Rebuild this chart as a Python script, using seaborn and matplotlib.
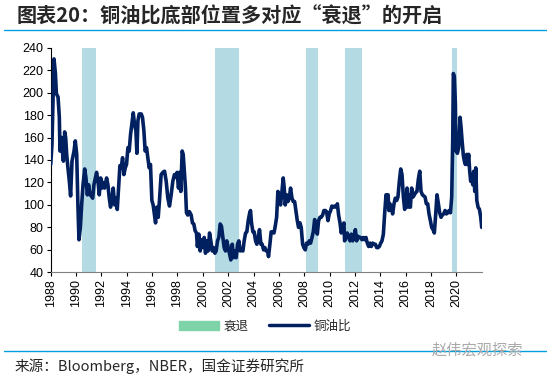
import matplotlib.pyplot as plt
import numpy as np
import pandas as pd
import seaborn as sns
from matplotlib.lines import Line2D
from matplotlib.patches import Patch

# 铜油比 readings (decimal year on the chart's axis, ratio)
years = [
    1988.00, 1988.10, 1988.26, 1988.37, 1988.45, 1988.58, 1988.68, 1988.73, 1988.84, 1988.92,
    1989.00, 1989.10, 1989.18, 1989.26, 1989.36, 1989.47, 1989.57, 1989.68, 1989.84, 1989.94,
    1990.05, 1990.15, 1990.23, 1990.34, 1990.44, 1990.55, 1990.68, 1990.78, 1990.89, 1990.99,
    1991.10, 1991.20, 1991.31, 1991.41, 1991.52, 1991.62, 1991.73, 1991.83, 1991.94, 1992.04,
    1992.15, 1992.25, 1992.41, 1992.51, 1992.62, 1992.72, 1992.83, 1992.93, 1993.04, 1993.14,
    1993.25, 1993.35, 1993.46, 1993.56, 1993.67, 1993.77, 1993.88, 1993.98, 1994.09, 1994.19,
    1994.30, 1994.40, 1994.51, 1994.61, 1994.72, 1994.80, 1994.88, 1994.98, 1995.14, 1995.24,
    1995.35, 1995.45, 1995.56, 1995.66, 1995.77, 1995.87, 1995.98, 1996.08, 1996.19, 1996.27,
    1996.37, 1996.48, 1996.58, 1996.71, 1996.85, 1996.98, 1997.11, 1997.24, 1997.37, 1997.50,
    1997.63, 1997.76, 1997.89, 1997.97, 1998.08, 1998.16, 1998.26, 1998.37, 1998.45, 1998.55,
    1998.63, 1998.71, 1998.81, 1998.94, 1999.08, 1999.18, 1999.29, 1999.39, 1999.50, 1999.57,
    1999.68, 1999.79, 1999.89, 2000.00, 2000.11, 2000.21, 2000.32, 2000.42, 2000.53, 2000.63,
    2000.74, 2000.84, 2000.95, 2001.05, 2001.16, 2001.26, 2001.37, 2001.47, 2001.58, 2001.68,
    2001.79, 2001.89, 2002.00, 2002.11, 2002.21, 2002.32, 2002.42, 2002.53, 2002.63, 2002.74,
    2002.84, 2002.95, 2003.05, 2003.16, 2003.26, 2003.37, 2003.47, 2003.58, 2003.68, 2003.76,
    2003.84, 2003.95, 2004.05, 2004.16, 2004.26, 2004.37, 2004.47, 2004.58, 2004.68, 2004.79,
    2004.89, 2005.00, 2005.11, 2005.18, 2005.29, 2005.39, 2005.50, 2005.61, 2005.71, 2005.82,
    2005.92, 2006.03, 2006.13, 2006.24, 2006.34, 2006.42, 2006.50, 2006.61, 2006.71, 2006.82,
    2006.92, 2007.03, 2007.13, 2007.24, 2007.34, 2007.45, 2007.55, 2007.66, 2007.76, 2007.87,
    2007.97, 2008.08, 2008.18, 2008.29, 2008.39, 2008.50, 2008.61, 2008.71, 2008.82, 2008.92,
    2009.03, 2009.13, 2009.24, 2009.34, 2009.45, 2009.55, 2009.66, 2009.76, 2009.87, 2009.97,
    2010.08, 2010.18, 2010.29, 2010.39, 2010.50, 2010.61, 2010.71, 2010.82, 2010.92, 2011.03,
    2011.13, 2011.18, 2011.29, 2011.39, 2011.50, 2011.61, 2011.71, 2011.82, 2011.92, 2012.03,
    2012.13, 2012.24, 2012.34, 2012.45, 2012.55, 2012.66, 2012.76, 2012.87, 2012.97, 2013.08,
    2013.18, 2013.29, 2013.39, 2013.50, 2013.61, 2013.71, 2013.82, 2013.92, 2014.03, 2014.13,
    2014.24, 2014.34, 2014.45, 2014.53, 2014.61, 2014.68, 2014.76, 2014.87, 2014.97, 2015.08,
    2015.18, 2015.29, 2015.39, 2015.50, 2015.61, 2015.71, 2015.82, 2015.92, 2016.03, 2016.11,
    2016.18, 2016.26, 2016.37, 2016.47, 2016.58, 2016.68, 2016.79, 2016.89, 2017.00, 2017.11,
    2017.21, 2017.32, 2017.42, 2017.53, 2017.63, 2017.74, 2017.84, 2017.95, 2018.05, 2018.16,
    2018.26, 2018.37, 2018.47, 2018.58, 2018.68, 2018.79, 2018.89, 2019.00, 2019.11, 2019.21,
    2019.32, 2019.42, 2019.53, 2019.63, 2019.71, 2019.76, 2019.84, 2019.92, 2019.97, 2020.08,
    2020.18, 2020.29, 2020.37, 2020.45, 2020.55, 2020.63, 2020.71, 2020.82, 2020.89, 2020.97,
    2021.05, 2021.13, 2021.21, 2021.29, 2021.37, 2021.45, 2021.53, 2021.61, 2021.71, 2021.82,
    2021.92, 2022.00,
]
ratio = [
    136, 154, 230, 217, 199, 196, 178, 148, 160, 148,
    139, 165, 160, 145, 133, 121, 108, 139, 148, 157,
    145, 98, 69, 80, 100, 118, 132, 124, 109, 118,
    109, 108, 106, 118, 124, 129, 121, 109, 124, 115,
    120, 115, 124, 118, 106, 98, 106, 115, 100, 106,
    96, 115, 135, 133, 142, 127, 133, 136, 151, 148,
    163, 172, 182, 172, 166, 146, 175, 181, 181, 178,
    166, 148, 151, 142, 133, 136, 104, 100, 91, 84,
    98, 89, 104, 127, 129, 130, 121, 106, 99, 109,
    121, 127, 125, 129, 115, 129, 112, 148, 145, 129,
    115, 93, 91, 94, 91, 84, 83, 77, 75, 63,
    74, 59, 69, 62, 71, 57, 68, 59, 75, 68,
    59, 62, 57, 59, 68, 71, 83, 81, 71, 62,
    59, 68, 62, 56, 51, 65, 53, 59, 53, 65,
    68, 59, 60, 59, 68, 75, 76, 86, 92, 95,
    84, 76, 76, 68, 65, 71, 78, 65, 65, 60,
    62, 59, 59, 54, 65, 76, 76, 75, 81, 89,
    112, 106, 100, 112, 124, 115, 100, 109, 103, 106,
    115, 106, 103, 103, 95, 86, 80, 84, 80, 65,
    62, 60, 66, 65, 68, 66, 71, 76, 87, 78,
    74, 86, 89, 89, 91, 95, 95, 94, 86, 92,
    95, 99, 98, 99, 98, 101, 91, 84, 75, 81,
    84, 68, 71, 75, 71, 68, 74, 68, 71, 78,
    68, 72, 71, 71, 69, 71, 69, 71, 66, 63,
    66, 63, 66, 65, 65, 62, 62, 63, 66, 68,
    74, 92, 109, 98, 109, 95, 101, 98, 92, 101,
    106, 104, 107, 121, 132, 127, 107, 96, 101, 115,
    98, 109, 98, 115, 107, 109, 111, 112, 123, 130,
    112, 109, 108, 107, 101, 101, 92, 86, 80, 78,
    75, 92, 109, 101, 93, 89, 91, 92, 95, 92,
    93, 95, 93, 107, 157, 217, 214, 190, 148, 146,
    151, 178, 169, 157, 144, 139, 136, 145, 136, 145,
    130, 121, 127, 118, 130, 112, 133, 104, 98, 96,
    89, 80,
]

# 衰退 periods as drawn (start, end)
rec_start = [1990.47, 2000.95, 2008.13, 2011.21, 2019.66]
rec_end = [1991.54, 2002.82, 2009.08, 2012.55, 2020.08]

xticks = list(range(1988, 2021, 2))

df = pd.DataFrame({"year": years, "ratio": ratio})

sns.set_style("white")
plt.rcParams["font.family"] = ["Liberation Sans", "Noto Sans CJK SC", "DejaVu Sans"]

fig = plt.figure(figsize=(5.47, 3.80), dpi=100)
ax = fig.add_axes([0.0927, 0.2834, 0.788, 0.5911])

navy = "#002060"
band = "#b4dbe3"
for s, e in zip(rec_start, rec_end):
    ax.axvspan(s, e, color=band, lw=0, zorder=0)

sns.lineplot(data=df, x="year", y="ratio", ax=ax, color=navy, lw=2.6, zorder=3)

ax.set_xlim(1988, 2022)
ax.set_ylim(40, 240)
ax.set_yticks(range(40, 241, 20))
ax.set_xticks(xticks)
ax.set_xticklabels([str(t) for t in xticks], rotation=90)
ax.tick_params(axis="both", labelsize=9, length=3, width=0.8, direction="out",
               bottom=True, left=True, pad=2, colors="black")
ax.set_xlabel("")
ax.set_ylabel("")
for side in ["top", "right"]:
    ax.spines[side].set_visible(False)
ax.spines["left"].set_color("black")
ax.spines["bottom"].set_color("#808080")

cjk = ["Noto Sans CJK SC", "DejaVu Sans"]
handles = [Patch(color="#7fd3a8", label="衰退"),
           Line2D([0], [0], color=navy, lw=2.5, label="铜油比")]
leg = fig.legend(handles=handles, loc="center", bbox_to_anchor=(0.485, 0.142),
                 ncol=2, frameon=False, handlelength=3.2, columnspacing=1.6,
                 handletextpad=0.4, prop={"family": cjk, "size": 9})

fig.text(0.031, 0.958, "图表20：铜油比底部位置多对应“衰退”的开启", family=cjk,
         fontsize=14.5, fontweight="bold", va="center", ha="left")
fig.add_artist(Line2D([0.007, 1.0], [0.921, 0.921], color="#00a0e0", lw=1.0))
fig.add_artist(Line2D([0.007, 1.0], [0.076, 0.076], color="#00a0e0", lw=1.0))
fig.text(0.027, 0.037, "来源：Bloomberg，NBER，国金证券研究所", family=cjk,
         fontsize=10.5, va="center", ha="left")
fig.text(0.79, 0.078, "赵伟宏观探索", family=cjk, fontsize=11, color="#aaaaaa",
         va="center", ha="left")

fig.savefig("out.png", dpi=100)
